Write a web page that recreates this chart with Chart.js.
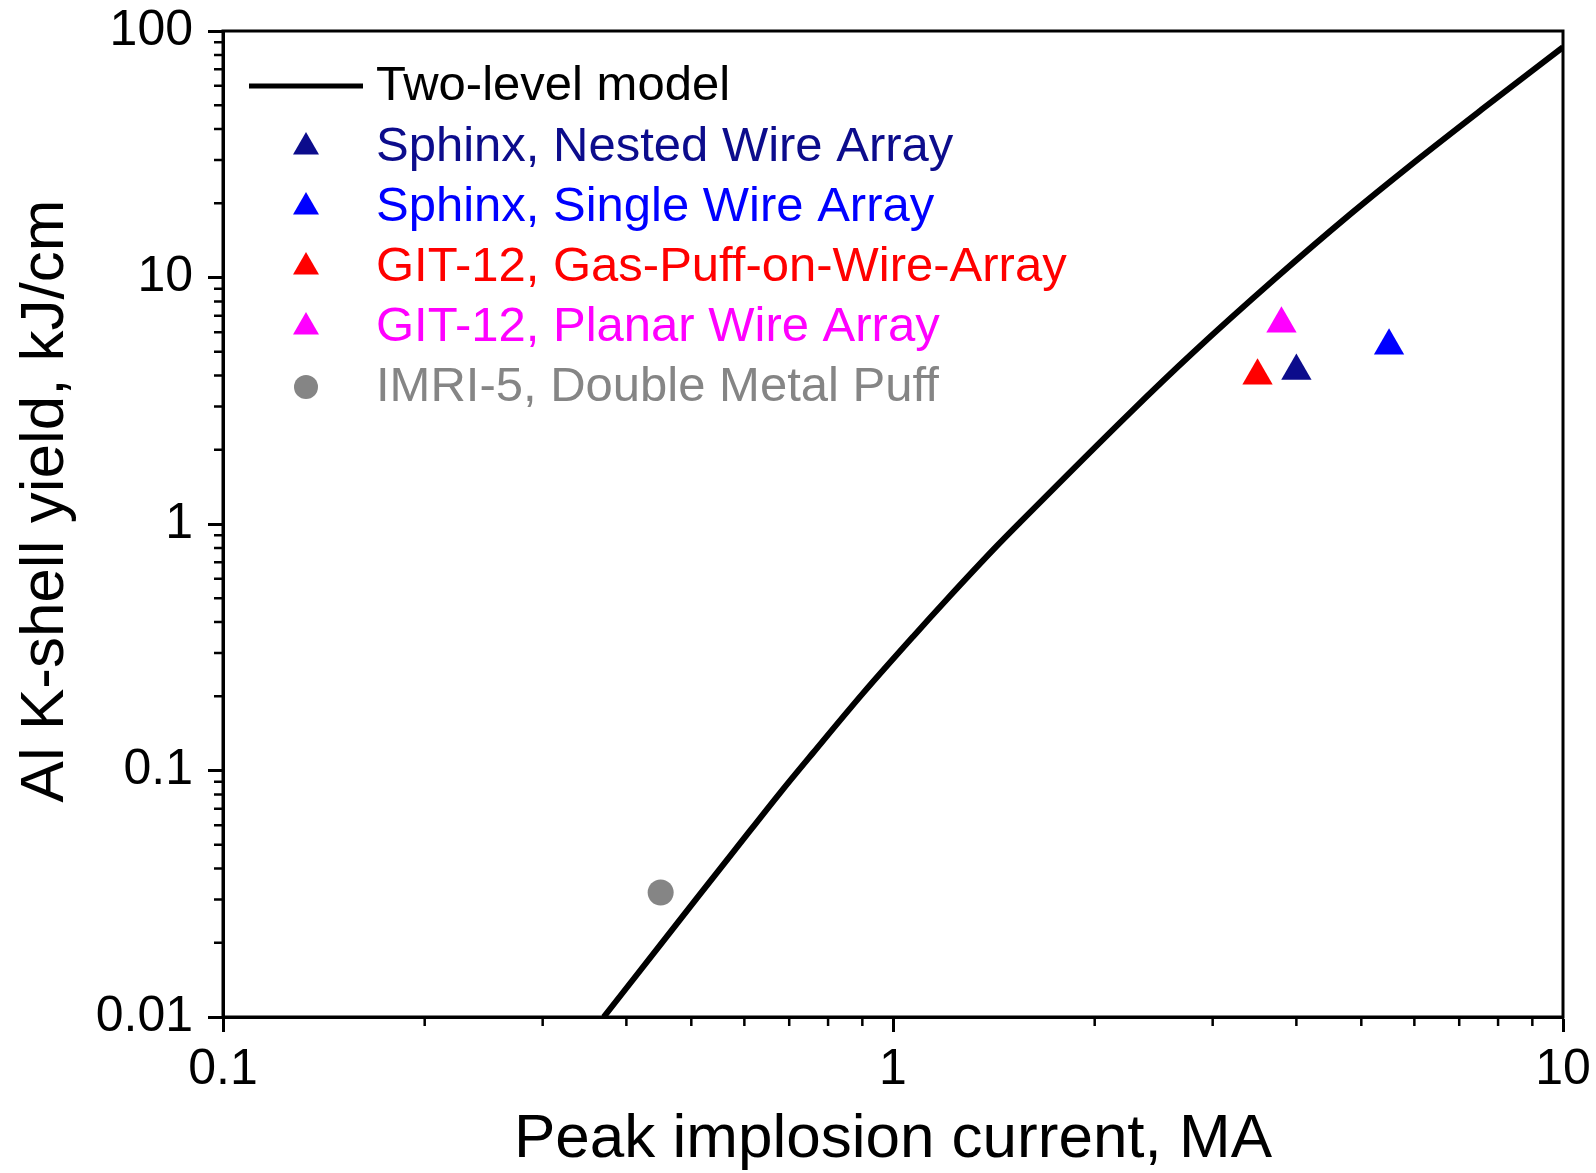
<!DOCTYPE html>
<html>
<head>
<meta charset="utf-8">
<title>Al K-shell yield vs peak implosion current</title>
<script src="https://cdn.jsdelivr.net/npm/chart.js@4.4.1/dist/chart.umd.min.js"></script>
<style>
    html, body { margin: 0; padding: 0; background: #fff; }
</style>
</head>
<body>
<canvas id="yieldChart" width="1596" height="1173"></canvas>
<script>
// Two-level model
var modelCurrent = [0.37, 0.454, 0.509, 0.584, 0.678, 0.76, 0.903, 1.072, 1.202, 1.428, 1.55, 2.25, 2.8, 3.72, 4.83, 5.85, 7.54, 10];
var modelYield = [0.01, 0.0203, 0.0302, 0.0485, 0.081, 0.118, 0.2065, 0.350, 0.493, 0.813, 1.02, 2.80, 4.94, 9.9, 18.2, 27.8, 47.7, 86];

// experiments: [current MA, yield kJ/cm]
var sphinxNested = [4.0, 4.18];
var sphinxSingle = [5.5, 5.28];
var gitGasPuff = [3.5, 3.99];
var gitPlanar = [3.8, 6.49];
var imriDouble = [0.45, 0.032];

// axes
var xTicks = [0.1, 1, 10];
var xTickLabels = ['0.1', '1', '10'];
var yTicks = [0.01, 0.1, 1, 10, 100];
var yTickLabels = ['0.01', '0.1', '1', '10', '100'];
var yTitle = 'Al K-shell yield, kJ/cm';

var fontFamily = "'Liberation Sans', Arial, sans-serif";

function pairs(xs, ys) {
    return xs.map(function (x, i) { return { x: x, y: ys[i] }; });
}

// 2..9 between the decades
function minorTicks(majors) {
    var out = [];
    for (var i = 0; i < majors.length - 1; i++) {
        for (var k = 2; k <= 9; k++) out.push(k * majors[i]);
    }
    return out;
}

// frame, short minor ticks, y title (sits a bit above centre) and the legend
var framePlugin = {
    id: 'frameAndLegend',
    afterDraw: function (chart) {
        var ctx = chart.ctx;
        var a = chart.chartArea;
        var xs = chart.scales.x, ys = chart.scales.y;
        ctx.save();
        ctx.strokeStyle = '#000';
        ctx.lineWidth = 3;
        ctx.strokeRect(a.left, a.top, a.right - a.left, a.bottom - a.top);

        ctx.lineWidth = 2.5;
        ctx.beginPath();
        minorTicks(xTicks).forEach(function (v) {
            var px = xs.getPixelForValue(v);
            ctx.moveTo(px, a.bottom);
            ctx.lineTo(px, a.bottom + 9);
        });
        minorTicks(yTicks).forEach(function (v) {
            var py = ys.getPixelForValue(v);
            ctx.moveTo(a.left, py);
            ctx.lineTo(a.left - 9, py);
        });
        ctx.stroke();

        // y axis title
        ctx.save();
        ctx.translate(46, (a.top + a.bottom) / 2 - 23);
        ctx.rotate(-Math.PI / 2);
        ctx.font = '62px ' + fontFamily;
        ctx.fillStyle = '#000';
        ctx.textAlign = 'center';
        ctx.textBaseline = 'middle';
        ctx.fillText(yTitle, 0, 0);
        ctx.restore();

        // legend
        var rowY = [86, 147, 207, 267, 327, 387];
        ctx.font = '49px ' + fontFamily;
        ctx.textBaseline = 'middle';
        ctx.textAlign = 'left';
        chart.data.datasets.forEach(function (ds, i) {
            var y = rowY[i];
            if (ds.showLine) {
                ctx.strokeStyle = ds.borderColor;
                ctx.lineWidth = 5;
                ctx.beginPath();
                ctx.moveTo(249, y);
                ctx.lineTo(363, y);
                ctx.stroke();
            } else {
                ctx.fillStyle = ds.backgroundColor;
                ctx.strokeStyle = ds.backgroundColor;
                Chart.helpers.drawPoint(ctx, {
                    pointStyle: ds.pointStyle,
                    radius: ds.pointStyle === 'circle' ? 12 : 15,
                    rotation: 0,
                    borderWidth: 0
                }, 306, y);
            }
            ctx.fillStyle = ds.labelColor;
            ctx.fillText(ds.label, 376, y);
        });
        ctx.restore();
    }
};

function markerSet(label, point, color, style, radius) {
    return {
        label: label,
        data: [{ x: point[0], y: point[1] }],
        showLine: false,
        pointStyle: style,
        pointRadius: radius,
        pointHoverRadius: radius,
        backgroundColor: color,
        borderColor: color,
        borderWidth: 0,
        labelColor: color
    };
}

var ctx = document.getElementById('yieldChart').getContext('2d');
var yieldChart = new Chart(ctx, {
    type: 'scatter',
    data: {
        datasets: [
            {
                label: 'Two-level model',
                data: pairs(modelCurrent, modelYield),
                showLine: true,
                borderColor: '#000',
                backgroundColor: '#000',
                borderWidth: 6,
                pointRadius: 0,
                cubicInterpolationMode: 'monotone',
                labelColor: '#000'
            },
            markerSet('Sphinx, Nested Wire Array', sphinxNested, '#0c0c8c', 'triangle', 17.5),
            markerSet('Sphinx, Single Wire Array', sphinxSingle, '#0000ff', 'triangle', 17.5),
            markerSet('GIT-12, Gas-Puff-on-Wire-Array', gitGasPuff, '#ff0000', 'triangle', 17.5),
            markerSet('GIT-12, Planar Wire Array', gitPlanar, '#ff00ff', 'triangle', 17.5),
            markerSet('IMRI-5, Double Metal Puff', imriDouble, '#858585', 'circle', 13)
        ]
    },
    options: {
        responsive: false,
        animation: false,
        layout: { padding: { left: 0, top: 31, right: 33, bottom: 0 } },
        plugins: {
            legend: { display: false },
            tooltip: { enabled: false }
        },
        scales: {
            x: {
                type: 'logarithmic',
                min: 0.1,
                max: 10,
                afterBuildTicks: function (s) { s.ticks = xTicks.map(function (v) { return { value: v }; }); },
                afterFit: function (s) {
                    s.height = 156;
                    s.paddingLeft = 0;
                    s.paddingRight = 0;
                },
                ticks: {
                    autoSkip: false,
                    maxRotation: 0,
                    padding: 8,
                    color: '#000',
                    font: { family: fontFamily, size: 50 },
                    callback: function (v, i) { return xTickLabels[i]; }
                },
                grid: { drawOnChartArea: false, tickLength: 15, tickWidth: 3, tickColor: '#000' },
                border: { display: true, color: '#000', width: 3 },
                title: {
                    display: true,
                    text: 'Peak implosion current, MA',
                    color: '#000',
                    font: { family: fontFamily, size: 62 },
                    padding: { top: 0, bottom: -4 }
                }
            },
            y: {
                type: 'logarithmic',
                min: 0.01,
                max: 100,
                afterBuildTicks: function (s) { s.ticks = yTicks.map(function (v) { return { value: v }; }); },
                afterFit: function (s) {
                    s.width = 223;
                    s.paddingTop = 0;
                    s.paddingBottom = 0;
                },
                ticks: {
                    autoSkip: false,
                    padding: 15,
                    color: '#000',
                    font: { family: fontFamily, size: 50 },
                    callback: function (v, i) { return yTickLabels[i]; }
                },
                grid: { drawOnChartArea: false, tickLength: 15, tickWidth: 3, tickColor: '#000' },
                border: { display: true, color: '#000', width: 3 },
                title: { display: false }
            }
        }
    },
    plugins: [framePlugin]
});
</script>
</body>
</html>
